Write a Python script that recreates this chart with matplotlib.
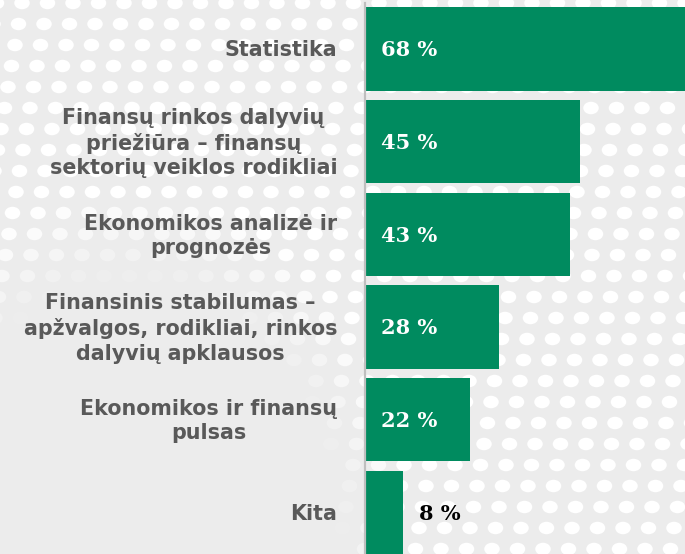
import numpy as np
import matplotlib
matplotlib.use("Agg")
import matplotlib.pyplot as plt
from matplotlib.collections import EllipseCollection

categories = [
    "Statistika",
    "Finansų rinkos dalyvių\npriežiūra – finansų\nsektorių veiklos rodikliai",
    "Ekonomikos analizė ir\nprognozės",
    "Finansinis stabilumas –\napžvalgos, rodikliai, rinkos\ndalyvių apklausos",
    "Ekonomikos ir finansų\npulsas",
    "Kita",
]
values = [68, 45, 43, 28, 22, 8]
value_labels = ["68 %", "45 %", "43 %", "28 %", "22 %", "8 %"]

W, H = 685, 554
green = "#008b5f"
bg = "#ececec"

fig = plt.figure(figsize=(W / 100, H / 100), dpi=100, facecolor=bg)

# dotted background (pixel coordinates)
bga = fig.add_axes([0, 0, 1, 1], zorder=0)
bga.set_xlim(0, W)
bga.set_ylim(H, 0)
bga.axis("off")
xs, ys = [], []
for r in range(28):
    y = 3 + r * 21
    shift = -3.5 * r
    for c in range(-6, 32):
        xs.append(22 + c * 25.5 + shift)
        ys.append(y)
xs = np.array(xs)
ys = np.array(ys)
keep = (xs > -20) & (xs < W + 20)
xs, ys = xs[keep], ys[keep]
# fade the dots away towards the lower left corner
rr = np.hypot((xs - 130) / 225, (ys - H) / 290)
alpha = np.clip((rr - 0.92) / 0.33, 0, 1)
cols = np.zeros((len(xs), 4))
cols[:, :3] = 1.0
cols[:, 3] = alpha
ec = EllipseCollection(np.full(len(xs), 15.5), np.full(len(xs), 12.5),
                       np.zeros(len(xs)), units="xy",
                       offsets=np.column_stack([xs, ys]),
                       offset_transform=bga.transData,
                       facecolors=cols, edgecolors="none")
bga.add_collection(ec)

# bar chart
ax = fig.add_axes([365 / W, 0, 320 / W, 551 / H], zorder=1)
ax.patch.set_alpha(0)
pos = np.arange(len(values))
ax.barh(pos, values, height=0.9, color=green)
ax.set_xlim(0, 67.1)
ax.set_ylim(5.448, -0.496)
for s in ["top", "right", "bottom"]:
    ax.spines[s].set_visible(False)
ax.spines["left"].set_color("#bfbfbf")
ax.spines["left"].set_linewidth(1.6)
ax.set_xticks([])
ax.set_yticks([])

for i, (cat, v, lab) in enumerate(zip(categories, values, value_labels)):
    ax.annotate(cat, xy=(0, i), xycoords=("axes fraction", "data"),
                xytext=(-20, -1), textcoords="offset points",
                ha="right", va="center", multialignment="center",
                fontsize=14.9, fontweight="bold", color="#595959",
                family="DejaVu Sans", linespacing=1.28, annotation_clip=False)
    if v >= 15:
        ax.annotate(lab, xy=(0, i), xytext=(11.5, -1), textcoords="offset points",
                    ha="left", va="center", fontsize=15, fontweight="bold",
                    color="white", family="DejaVu Serif")
    else:
        ax.annotate(lab, xy=(v, i), xytext=(11.5, -1), textcoords="offset points",
                    ha="left", va="center", fontsize=15, fontweight="bold",
                    color="black", family="DejaVu Serif")

fig.savefig("out.png", dpi=100, facecolor=bg)
